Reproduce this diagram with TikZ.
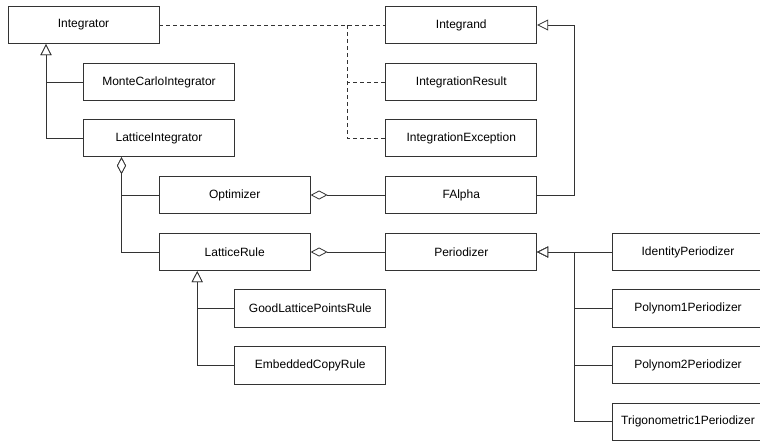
\documentclass[tikz,border=0pt]{standalone}
\usepackage{fontspec}
\setmainfont{Liberation Sans}
\usetikzlibrary{arrows.meta}
\begin{document}
\begin{tikzpicture}[x=1pt,y=-1pt,
  cls/.style={draw=black!80, line width=0.8pt, minimum width=151pt, minimum height=37.5pt, inner sep=0pt, font=\fontsize{12}{14}\selectfont},
  conn/.style={draw=black!80, line width=0.8pt},
  gen/.style={conn, -{Triangle[length=11pt,width=11pt,fill=white,line width=0.8pt]}},
  agg/.style={conn, -{Diamond[length=17pt,width=9pt,fill=white,line width=0.8pt]}},
  dep/.style={conn, dash pattern=on 4pt off 3pt}]
\useasboundingbox (0,0) rectangle (760,440);
\clip (0,0) rectangle (760,440);
\node[cls] (Int) at (83.5,25) {Integrator};
\node[cls] (MC) at (159,82) {MonteCarloIntegrator};
\node[cls] (LI) at (159,138) {LatticeIntegrator};
\node[cls] (Ind) at (461.3,25) {Integrand};
\node[cls] (IR) at (461.3,82) {IntegrationResult};
\node[cls] (IE) at (461.3,138) {IntegrationException};
\node[cls] (Opt) at (234.7,195) {Optimizer};
\node[cls] (FA) at (461.3,195) {FAlpha};
\node[cls] (LR) at (234.7,252) {LatticeRule};
\node[cls] (Per) at (461.3,252) {Periodizer};
\node[cls] (GLP) at (310.3,308.5) {GoodLatticePointsRule};
\node[cls] (ECR) at (310.3,365.3) {EmbeddedCopyRule};
\node[cls] (IdP) at (688,252) {IdentityPeriodizer};
\node[cls] (P1) at (688,308.5) {Polynom1Periodizer};
\node[cls] (P2) at (688,365) {Polynom2Periodizer};
\node[cls] (T1) at (688,421.7) {Trigonometric1Periodizer};
\coordinate (dj) at (347.3,25);
% generalizations
\draw[gen] (MC.west) -| ([xshift=-37.5pt]Int.south);
\draw[gen] (LI.west) -| ([xshift=-37.5pt]Int.south);
\draw[gen] (FA.east) -- ++(37.5,0) |- (Ind.east);
\draw[gen] (GLP.west) -| ([xshift=-37.5pt]LR.south);
\draw[gen] (ECR.west) -| ([xshift=-37.5pt]LR.south);
\draw[gen] (IdP.west) -- (Per.east);
\draw[gen] (P1.west) -| ([xshift=37.5pt]Per.east) -- (Per.east);
\draw[gen] (P2.west) -| ([xshift=37.5pt]Per.east) -- (Per.east);
\draw[gen] (T1.west) -| ([xshift=37.5pt]Per.east) -- (Per.east);
% aggregations
\draw[agg] (Opt.west) -| ([xshift=-37.5pt]LI.south);
\draw[agg] (LR.west) -| ([xshift=-37.5pt]LI.south);
\draw[agg] (FA.west) -- (Opt.east);
\draw[agg] (Per.west) -- (LR.east);
% dependencies
\draw[dep] (Int.east) -- (Ind.west);
\draw[dep] (dj) |- (IR.west);
\draw[dep] (dj) |- (IE.west);
\end{tikzpicture}
\end{document}
